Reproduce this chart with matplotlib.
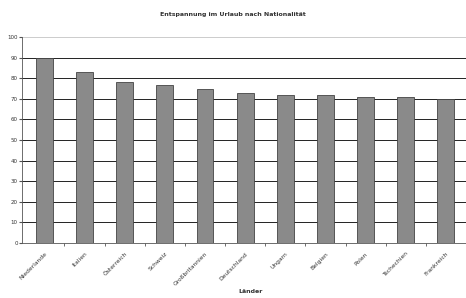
import matplotlib.pyplot as plt
import numpy as np

laender = ['Niederlande', 'Italien', 'Österreich', 'Schweiz', 'Großbritannien',
           'Deutschland', 'Ungarn', 'Belgien', 'Polen', 'Tschechien', 'Frankreich']
werte = [90, 83, 78, 77, 75, 73, 72, 72, 71, 71, 70]

fig = plt.figure(figsize=(4.66, 2.98), dpi=100)
ax = fig.add_axes([0.047, 0.185, 0.953, 0.69])

x = np.arange(len(laender))
ax.bar(x, werte, width=0.42, color='#8a8a8a', edgecolor='#444444', linewidth=0.6, zorder=3)

ax.set_ylim(0, 100)
ax.set_xlim(-0.56, 10.29)
ax.set_yticks(range(0, 101, 10))
ax.set_yticklabels([str(v) for v in range(0, 101, 10)], fontsize=4, color='#333333')
for v in range(10, 100, 10):
    ax.axhline(v, color='#222222', linewidth=0.7, zorder=1)
ax.axhline(100, color='#cccccc', linewidth=0.7, zorder=1)

ax.set_xticks(x)
ax.set_xticklabels(laender, rotation=45, ha='right', fontsize=4.3, color='#333333', rotation_mode='anchor')
ax.set_xticks(np.arange(len(laender)) + 0.5, minor=True)
ax.tick_params(axis='x', which='major', length=0, pad=6)
ax.tick_params(axis='x', which='minor', length=2, color='#555555')
ax.tick_params(axis='y', length=2, pad=1, color='#555555')

for s in ['top', 'right']:
    ax.spines[s].set_visible(False)
ax.spines['left'].set_color('#555555')
ax.spines['bottom'].set_color('#555555')
ax.spines['left'].set_linewidth(0.6)
ax.spines['bottom'].set_linewidth(0.6)

fig.text(0.5, 0.953, 'Entspannung im Urlaub nach Nationalität', ha='center', va='center',
         fontsize=4.5, fontweight='bold', color='#333333')
fig.text(0.538, 0.022, 'Länder', ha='center', va='center', fontsize=4.5, fontweight='bold', color='#333333')

fig.savefig('out.png', dpi=100)
